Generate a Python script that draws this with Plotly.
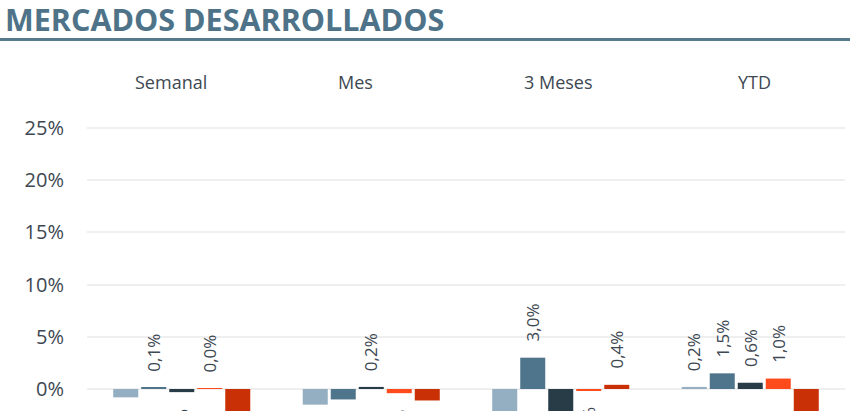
import plotly.graph_objects as go

# ---- data ----
categories = ["Semanal", "Mes", "3 Meses", "YTD"]
serie_1 = [-0.8, -1.5, -3.2, 0.2]
serie_2 = [0.1, -1.0, 3.0, 1.5]
serie_3 = [-0.3, 0.2, -3.4, 0.6]
serie_4 = [0.02, -0.4, -0.1, 1.0]
serie_5 = [-2.6, -1.1, 0.4, -3.0]
series_names = ["Serie 1", "Serie 2", "Serie 3", "Serie 4", "Serie 5"]
y_tick_vals = [0, 5, 10, 15, 20, 25]
y_tick_text = ["0%", "5%", "10%", "15%", "20%", "25%"]
title_text = "MERCADOS DESARROLLADOS"

# ---- style ----
colors = ["#93AFC1", "#4E758B", "#283C48", "#FF4A1C", "#C93006"]
FONT = "Open Sans"
TXT = "#3D4852"
W, H = 850, 411
ML, MR, MT, MB = 87, 5, 100, 0
plot_w = W - ML - MR
plot_h = H - MT - MB
px_per_pct = 10.44
y_min = -(H - MB - 389) / px_per_pct
y_max = y_min + plot_h / px_per_pct

all_series = [serie_1, serie_2, serie_3, serie_4, serie_5]

def fmt(v):
    return f"{v:.1f}".replace(".", ",").replace("-0,0", "0,0") + "%"

fig = go.Figure()
for name, vals, col in zip(series_names, all_series, colors):
    fig.add_trace(go.Bar(
        x=categories, y=vals, name=name,
        marker=dict(color=col, line=dict(width=0)),
        showlegend=False, hoverinfo="skip",
    ))

bargap = 0.261
bargroupgap = 0.107
n = len(all_series)
slot_px = plot_w / len(categories) * (1 - bargap) / n

annotations = []
for i, vals in enumerate(all_series):
    for cat, v in zip(categories, vals):
        pos = v >= 0
        annotations.append(dict(
            x=cat, y=v, xref="x", yref="y",
            text=fmt(v), textangle=-90, showarrow=False,
            xshift=(i - (n - 1) / 2) * slot_px,
            yshift=14 if pos else -15,
            yanchor="bottom" if pos else "top", xanchor="center",
            font=dict(family=FONT, size=17, color=TXT),
        ))

# group titles (positioned like the original text boxes)
group_title_px = [170.5, 355, 558, 754.5]
for cat, px in zip(categories, group_title_px):
    annotations.append(dict(
        x=(px - ML) / plot_w, y=(H - MB - 82) / plot_h,
        xref="paper", yref="paper", text=cat, showarrow=False,
        xanchor="center", yanchor="middle",
        font=dict(family=FONT, size=18, color=TXT),
    ))

fig.update_layout(
    width=W, height=H,
    margin=dict(l=ML, r=MR, t=MT, b=MB),
    paper_bgcolor="white", plot_bgcolor="white",
    barmode="group", bargap=bargap, bargroupgap=bargroupgap,
    title=dict(
        text=title_text, x=5 / W, xanchor="left", xref="container",
        y=1 - 20 / H, yanchor="middle", yref="container",
        font=dict(family=FONT, size=30.5, color="#4E7389", weight=700),
    ),
    xaxis=dict(showticklabels=False, showgrid=False, zeroline=False,
               showline=False, ticks=""),
    yaxis=dict(range=[y_min, y_max], tickvals=y_tick_vals, ticktext=y_tick_text,
               showgrid=True, gridcolor="#EFEFEF", gridwidth=1.5,
               zeroline=True, zerolinecolor="#EFEFEF", zerolinewidth=1.5,
               showline=False, ticks="", ticklabelstandoff=22,
               tickfont=dict(family=FONT, size=20, color=TXT)),
    annotations=annotations,
    shapes=[dict(type="line", xref="paper", yref="paper",
                 x0=-ML / plot_w, x1=(W - ML) / plot_w,
                 y0=(H - MB - 39.5) / plot_h, y1=(H - MB - 39.5) / plot_h,
                 line=dict(color="#557A8E", width=3))],
)

fig.write_html("out.html", config={"displayModeBar": False},
               post_script="document.body.style.margin='0';")
